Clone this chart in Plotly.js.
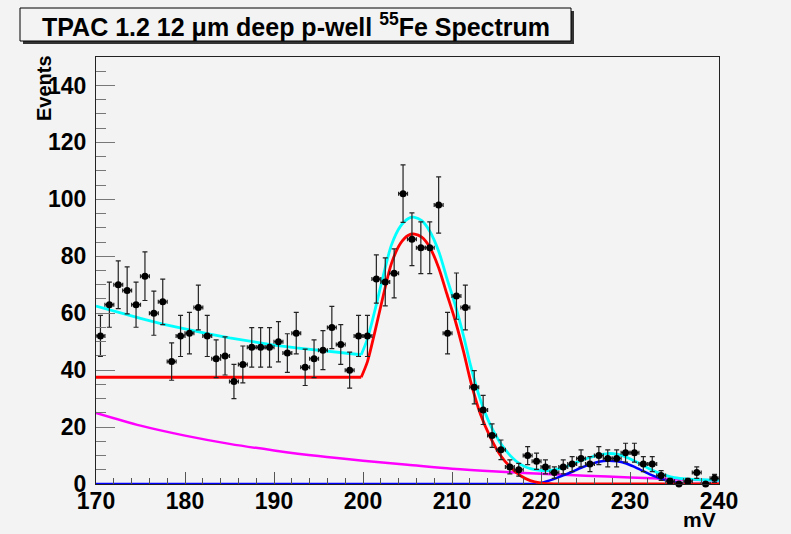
<!DOCTYPE html>
<html>
<head>
<meta charset="utf-8">
<script src="https://cdn.plot.ly/plotly-3.0.1.min.js"></script>
<style>
  html, body { margin: 0; padding: 0; background: #f3f3f3; }
  #chart { width: 791px; height: 534px; }
</style>
</head>
<body>
<div id="chart"></div>
<script>
// ---- histogram data (bin centres in mV, counts) ----
const binCenters = [170.5,171.5,172.5,173.5,174.5,175.5,176.5,177.5,178.5,179.5,
  180.5,181.5,182.5,183.5,184.5,185.5,186.5,187.5,188.5,189.5,
  190.5,191.5,192.5,193.5,194.5,195.5,196.5,197.5,198.5,199.5,
  200.5,201.5,202.5,203.5,204.5,205.5,206.5,207.5,208.5,209.5,
  210.5,211.5,212.5,213.5,214.5,215.5,216.5,217.5,218.5,219.5,
  220.5,221.5,222.5,223.5,224.5,225.5,226.5,227.5,228.5,229.5,
  230.5,231.5,232.5,233.5,234.5,235.5,236.5,237.5,238.5,239.5];
const counts = [52,63,70,68,63,73,60,64,43,52,
  53,62,52,44,45,36,42,48,48,48,
  50,46,53,41,44,47,55,49,40,52,
  52,72,71,74,102,86,83,83,98,53,
  66,62,34,26,17,12,6,5,10,8,
  6,4,6,7,9,7,10,9,9,11,
  11,7,7,3,1,0,1,4,0,2];

// ---- fitted curves ----
const redX = [170,199.8,200.5,201.3,202.3,203.2,204.2,205.1,205.8,206.6,207.5,208.5,209.4,210.4,211.3,212.1,213.2,214.3,215.4,216.6,217.7,218.8,219.9,221,222,240];
const redY = [37.5,37.5,43,53,66.5,77.5,84.5,87.4,87.8,86.7,83.2,76,67,57,46.5,36,24.5,16.5,10.3,5.8,2.9,1.2,0.4,0.1,0,0];
const redKink = 1;

const cyanX = [170,172.5,175,177.5,180,182.5,185,187.5,190,192.5,195,197.5,199.8,200.5,201.3,202.3,203.2,204.2,205.1,205.8,206.6,207.5,208.5,209.4,210.4,211.3,212.1,213.2,214.3,215.4,216.6,217.7,218.8,219.9,221.1,222.2,223.3,224.3,225.5,226.5,227.5,228.5,229.3,230.1,231.2,232,233.1,234,235,236.5,238,240];
const cyanY = [62.5,60.3,58.2,56.2,54.4,52.8,51.3,50.0,48.8,47.8,46.9,46.1,45.4,51,60.5,73.5,84,90.5,93.3,93.7,92.5,88.8,81.8,72.5,62.5,52,41.5,29.5,20.8,14.6,9.8,6.9,5.4,4.8,4.8,5.5,6.7,8.0,9.3,10.2,10.7,10.5,9.8,8.7,7.0,5.6,4.0,3.0,2.2,1.7,1.5,1.3];
const cyanKink = 12;

const magentaX = [170,175,180,185,190,195,200,205,210,215,220,225,230,235,240];
const magentaY = [25,20.5,17,14.1,11.8,9.8,8.2,6.8,5.4,4.4,3.6,2.9,2.3,1.7,1.2];

const blueX = [170,219.5,220.5,221.5,222.5,223.5,224.5,225.5,226.5,227.5,228.5,229.5,230.5,231.5,232.5,233.5,234.5,235.5,236.5,237.5,240];
const blueY = [0,0,0.8,1.8,3.0,4.3,5.7,6.9,7.8,8.2,8.0,7.3,6.0,4.5,3.0,1.8,0.9,0.4,0.1,0,0];
const blueKink = 1;

// ---- text ----
const titleText = 'TPAC 1.2 12 \u03bcm deep p-well <sup>55</sup>Fe Spectrum';
const xLabel = 'mV';
const yLabel = 'Events';

const FONT = 'Liberation Sans, Arial, Helvetica, sans-serif';

function segTraces(x, y, kink, color, width) {
  const common = {type: 'scatter', mode: 'lines', hoverinfo: 'skip', showlegend: false, cliponaxis: false};
  return [
    Object.assign({}, common, {x: x.slice(0, kink + 1), y: y.slice(0, kink + 1), line: {color: color, width: width, shape: 'linear'}}),
    Object.assign({}, common, {x: x.slice(kink), y: y.slice(kink), line: {color: color, width: width, shape: 'spline', smoothing: 0.8}})
  ];
}

const traces = [];
traces.push({type: 'scatter', mode: 'lines', x: magentaX, y: magentaY, showlegend: false, hoverinfo: 'skip',
  line: {color: '#ff00ff', width: 2.5, shape: 'spline', smoothing: 0.8}});
segTraces(blueX, blueY, blueKink, '#0000ff', 2.5).forEach(t => traces.push(t));
segTraces(redX, redY, redKink, '#ff0000', 2.8).forEach(t => traces.push(t));
segTraces(cyanX, cyanY, cyanKink, '#00ffff', 2.8).forEach(t => traces.push(t));
traces.push({
  type: 'scatter', mode: 'markers', x: binCenters, y: counts, showlegend: false, cliponaxis: false,
  marker: {color: '#000', size: 7, symbol: 'circle'},
  error_y: {type: 'sqrt', visible: true, color: '#222', thickness: 1.2, width: 2.5},
  error_x: {type: 'constant', value: 0.5, visible: true, color: '#222', thickness: 1.2, width: 2}
});

// plot area geometry (px) for paper-coordinate annotations
const L = 96, R = 72, T = 57, B = 50, W = 791, H = 534;
const PW = W - L - R, PH = H - T - B;
const px = v => (v - L) / PW;
const py = v => (H - B - v) / PH;

const layout = {
  width: W, height: H,
  margin: {l: L, r: R, t: T, b: B, pad: 0},
  paper_bgcolor: '#f3f3f3',
  plot_bgcolor: '#f3f3f3',
  showlegend: false,
  font: {family: FONT, color: '#000'},
  xaxis: {
    range: [170, 240], showgrid: false, zeroline: false,
    showline: true, linecolor: '#222', linewidth: 1, mirror: true,
    ticks: 'inside', ticklen: 12, tickwidth: 1, tickcolor: '#555',
    dtick: 10, tick0: 170,
    minor: {ticks: 'inside', ticklen: 6, dtick: 2, tickcolor: '#555', tickwidth: 1, showgrid: false},
    tickfont: {family: FONT, size: 23, color: '#000', weight: 'bold'},
    ticklabelstandoff: -4
  },
  yaxis: {
    range: [0, 150], showgrid: false, zeroline: false,
    showline: true, linecolor: '#222', linewidth: 1, mirror: true,
    ticks: 'inside', ticklen: 19, tickwidth: 1, tickcolor: '#777',
    dtick: 20, tick0: 0,
    minor: {ticks: 'inside', ticklen: 10, dtick: 5, tickcolor: '#777', tickwidth: 1, showgrid: false},
    tickfont: {family: FONT, size: 23, color: '#000', weight: 'bold'},
    ticklabelstandoff: 4
  },
  shapes: [
    {type: 'rect', xref: 'paper', yref: 'paper', layer: 'above',
      x0: px(23), x1: px(574), y0: py(44), y1: py(11), fillcolor: '#333', line: {width: 0}},
    {type: 'rect', xref: 'paper', yref: 'paper', layer: 'above',
      x0: px(20), x1: px(571), y0: py(41), y1: py(8), fillcolor: '#f3f3f3', line: {color: '#000', width: 1}}
  ],
  annotations: [
    {xref: 'paper', yref: 'paper', x: px(295.5), y: py(24.5), xanchor: 'center', yanchor: 'middle',
      text: titleText, showarrow: false, font: {family: FONT, size: 25, color: '#000', weight: 'bold'}},
    {xref: 'paper', yref: 'paper', x: px(44), y: py(88), xanchor: 'center', yanchor: 'middle', textangle: -90,
      text: yLabel, showarrow: false, font: {family: FONT, size: 20, color: '#000', weight: 'bold'}},
    {xref: 'paper', yref: 'paper', x: px(699), y: py(519), xanchor: 'center', yanchor: 'middle',
      text: xLabel, showarrow: false, font: {family: FONT, size: 21, color: '#000', weight: 'bold'}}
  ]
};

Plotly.newPlot('chart', traces, layout, {displayModeBar: false, staticPlot: true});
</script>
</body>
</html>
